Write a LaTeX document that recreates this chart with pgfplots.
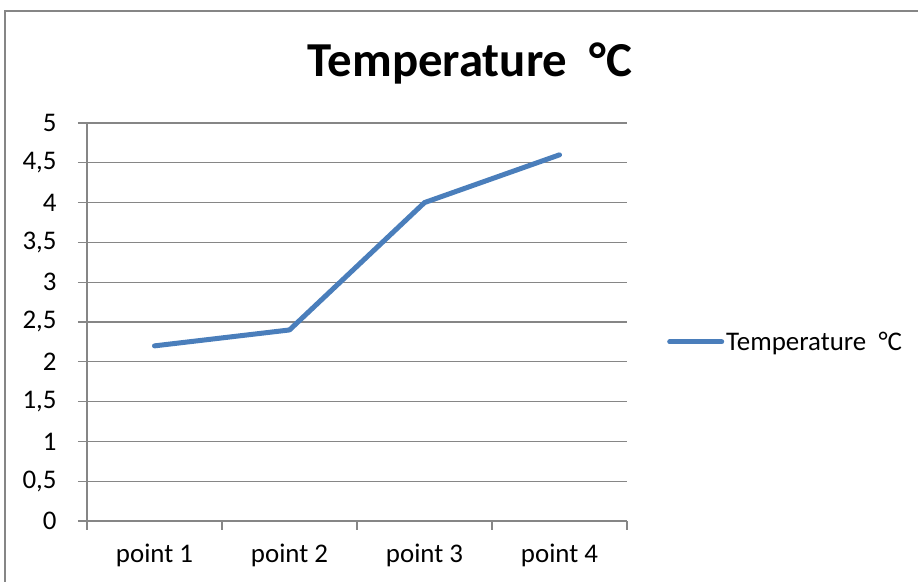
\documentclass[border=0pt]{standalone}
\usepackage{fontspec}
\setmainfont{Carlito}
\usepackage{pgfplots}
\pgfplotsset{compat=1.18}
\definecolor{axgray}{HTML}{868686}
\definecolor{serblue}{HTML}{4A7EBB}
\begin{document}
\begin{tikzpicture}[x=1bp,y=1bp]
\useasboundingbox (0,0) rectangle (918,582);
\draw[axgray, line width=1.5bp] (5,-5) -- (5,571) -- (925,571);
\node[anchor=base, font=\fontsize{49}{58}\selectfont\bfseries] at (470,505) {Temperature~~°C};
\begin{axis}[
  at={(87bp,61bp)}, anchor=south west,
  scale only axis, width=540bp, height=398bp,
  xmin=-0.5, xmax=3.5, ymin=0, ymax=5,
  axis x line*=bottom, axis y line*=left,
  axis line style={axgray, line width=1.3bp},
  xtick={-0.5,0.5,1.5,2.5,3.5},
  x tick label as interval=true,
  xticklabels={point 1,point 2,point 3,point 4},
  ytick={0,0.5,1,1.5,2,2.5,3,3.5,4,4.5,5},
  ymajorgrids,
  grid style={axgray, line width=1.3bp},
  tick align=outside,
  major tick length=9bp,
  tick style={axgray, line width=1.3bp},
  ticklabel style={font=\fontsize{27}{32}\selectfont, text=black},
  /pgf/number format/use comma,
  /pgf/number format/assume math mode=true,
  yticklabel style={xshift=-18bp},
  xticklabel style={yshift=-10bp},
  legend style={at={(1,0.45)}, anchor=west, draw=none, fill=none,
    font=\fontsize{27}{32}\selectfont, xshift=40bp, inner sep=0pt},
  legend image code/.code={\draw[#1] (0bp,0bp) -- (52bp,0bp);},
]
\addplot[serblue, line width=5bp, line cap=round, line join=round]
  coordinates {(0,2.2) (1,2.4) (2,4.0) (3,4.6)};
\addlegendentry{Temperature~~°C}
\end{axis}
\end{tikzpicture}
\end{document}
